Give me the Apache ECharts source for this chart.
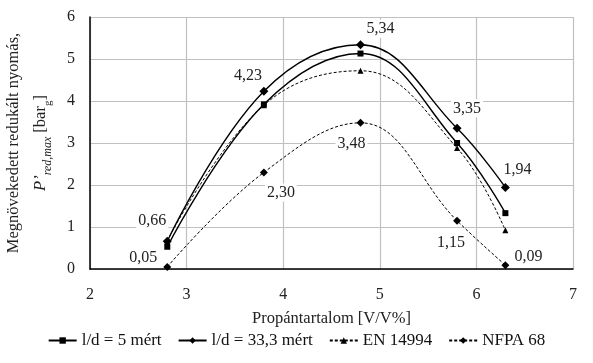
<!DOCTYPE html>
<html><head><meta charset="utf-8">
<script src="https://cdn.jsdelivr.net/npm/echarts@6/dist/echarts.min.js"></script>
<style>html,body{margin:0;padding:0;background:#fff}#c{width:593px;height:363px}</style>
</head><body><div id="c"></div>
<script>
const xValues = [2.8, 3.8, 4.8, 5.8, 6.3];
const seriesNames = ['l/d = 5 mért', 'l/d = 33,3 mért', 'EN 14994', 'NFPA 68'];
const ld5 = [0.53, 3.92, 5.13, 3.0, 1.33];
const ld33 = [0.66, 4.23, 5.34, 3.35, 1.94];
const en14994 = [0.68, 3.9, 4.72, 2.88, 0.92];
const nfpa68 = [0.05, 2.30, 3.48, 1.15, 0.09];
const ld33Offsets = [[-15,-20],[-16,-16],[20,-16],[10,-20],[12,-18]];
const nfpaOffsets = [[-24,-9],[17,20],[-9,21],[-6,22],[23,-8]];

const font = "'Liberation Serif', 'Times New Roman', serif";
function pairs(arr){ return xValues.map((x,i)=>[x,arr[i]]); }
function labelled(arr, offs){
  return xValues.map((x,i)=>({value:[x,arr[i]], label:{show:true, offset:offs[i], position:'inside',
    formatter: arr[i].toFixed(2).replace('.',','), fontFamily:font, fontSize:16, color:'#222',
    backgroundColor:'#fff', padding:[1,2]}}));
}
const chart = echarts.init(document.getElementById('c'), null, {renderer:'canvas'});
chart.setOption({
  animation:false,
  textStyle:{fontFamily:font},
  grid:{left:90, right:20, top:17, bottom:94, containLabel:false, outerBoundsMode:'none'},
  legend:{bottom:9, left:'center', itemWidth:28, itemHeight:8, itemGap:16,
    textStyle:{fontFamily:font, fontSize:17, color:'#111'},
    data:seriesNames},
  xAxis:{type:'value', min:2, max:7, interval:1, name:'Propántartalom [V/V%]', nameLocation:'middle', nameGap:41,
    nameTextStyle:{fontFamily:font, fontSize:16.5, color:'#222'},
    axisLine:{show:true, lineStyle:{color:'#000', width:1.5}}, axisTick:{show:false},
    axisLabel:{fontFamily:font, fontSize:16, color:'#222', margin:18},
    splitLine:{show:true, lineStyle:{color:'#c0c0c0', width:1.2}}},
  yAxis:{type:'value', min:0, max:6, interval:1,
    name:'{a|Megnövekedett redukált nyomás,}\n{p|P\u2019}{s|red,max}{b| [bar}{t|g}{b|]}',
    nameLocation:'middle', nameGap:36, nameRotate:90,
    nameTextStyle:{fontFamily:font, fontSize:16.5, color:'#222', lineHeight:27,
      rich:{a:{fontFamily:font,fontSize:16.5,color:'#222'},
            p:{fontFamily:font,fontSize:16.5,color:'#222',fontStyle:'italic'},
            b:{fontFamily:font,fontSize:16.5,color:'#222'},
            s:{fontFamily:font,fontSize:12,color:'#222',fontStyle:'italic',verticalAlign:'bottom',padding:[4,0,0,0]},
            t:{fontFamily:font,fontSize:11,color:'#222',verticalAlign:'bottom',padding:[4,0,0,0]}}},
    axisLine:{show:true, lineStyle:{color:'#000', width:1.5}}, axisTick:{show:false},
    axisLabel:{fontFamily:font, fontSize:16, color:'#222', margin:15},
    splitLine:{show:true, lineStyle:{color:'#c0c0c0', width:1.2}}},
  series:[
    {name:seriesNames[0], type:'line', smooth:0.4, data:pairs(ld5), symbol:'rect', symbolSize:6,
     lineStyle:{color:'#000', width:1.4}, itemStyle:{color:'#000'}, z:3},
    {name:seriesNames[1], type:'line', smooth:0.4, data:labelled(ld33, ld33Offsets), symbol:'diamond', symbolSize:9,
     lineStyle:{color:'#000', width:1.4}, itemStyle:{color:'#000'}, z:4},
    {name:seriesNames[2], type:'line', smooth:0.4, data:pairs(en14994), symbol:'triangle', symbolSize:6,
     lineStyle:{color:'#000', width:1, type:[3,2]}, itemStyle:{color:'#000'}, z:2},
    {name:seriesNames[3], type:'line', smooth:0.4, data:labelled(nfpa68, nfpaOffsets), symbol:'diamond', symbolSize:8,
     lineStyle:{color:'#000', width:1, type:[3,2]}, itemStyle:{color:'#000'}, z:2}
  ]
});
</script></body></html>
